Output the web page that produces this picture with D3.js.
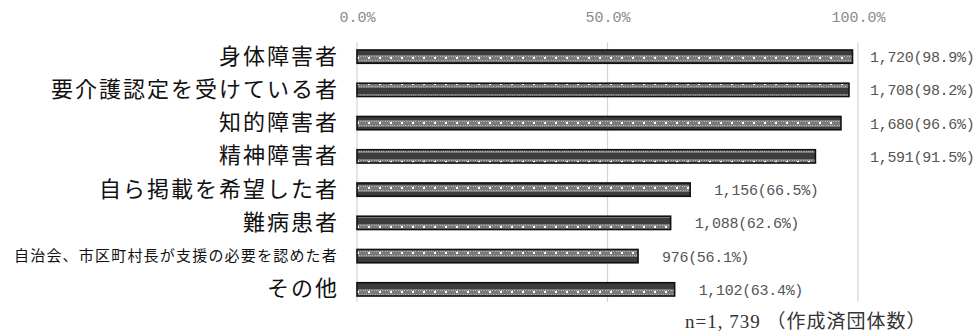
<!DOCTYPE html>
<html>
<head>
<meta charset="utf-8">
<script src="https://cdn.jsdelivr.net/npm/d3@7"></script>
<style>
  body { margin: 0; background: #fff; }
  svg { display: block; }
</style>
</head>
<body>
<div id="content"></div>
<script>
var categories = ["身体障害者", "要介護認定を受けている者", "知的障害者", "精神障害者",
    "自ら掲載を希望した者", "難病患者", "自治会、市区町村長が支援の必要を認めた者", "その他"];
var counts = [1720, 1708, 1680, 1591, 1156, 1088, 976, 1102];
var percents = [98.9, 98.2, 96.6, 91.5, 66.5, 62.6, 56.1, 63.4];
var ticks = [0, 50, 100];
var note = "n=1, 739 （作成済団体数）";

var data = categories.map(function(c, i) {
    return { name: c, count: counts[i], pct: percents[i] };
});

var width = 978, height = 334;

var svg = d3.select("div#content").append("svg")
    .attr("width", width)
    .attr("height", height);

// bar fill pattern: dark grey with light dots
var defs = svg.append("defs");
var pat = defs.append("pattern")
    .attr("id", "dots")
    .attr("patternUnits", "userSpaceOnUse")
    .attr("width", 11)
    .attr("height", 13);
pat.append("rect").attr("width", 11).attr("height", 13).attr("fill", "#3c3c3c");
pat.append("rect").attr("x", 0).attr("y", 3).attr("width", 11).attr("height", 7).attr("fill", "#7a7a7a");
[0, 2, 4, 6, 8].forEach(function(px) {
    pat.append("rect").attr("x", px).attr("y", 4).attr("width", 1).attr("height", 1).attr("fill", "#b5b5b5");
    pat.append("rect").attr("x", px + 1).attr("y", 8).attr("width", 1).attr("height", 1).attr("fill", "#b5b5b5");
});
pat.append("rect").attr("x", 5).attr("y", 5).attr("width", 2).attr("height", 2).attr("fill", "#fff");

var x = d3.scaleLinear().domain([0, 100]).range([357, 858]);
var y = d3.scaleBand().domain(categories).range([40, 306])
    .paddingInner(0.6).paddingOuter(0.3);

// gridlines
svg.append("g").selectAll("line")
    .data(ticks)
    .enter().append("line")
    .attr("x1", function(d) { return x(d); })
    .attr("x2", function(d) { return x(d); })
    .attr("y1", 42)
    .attr("y2", 302)
    .attr("stroke", "#d4d4d4")
    .attr("stroke-width", 1.2);

// top axis
var axis = svg.append("g")
    .attr("transform", "translate(0,25)")
    .call(d3.axisTop(x).tickValues(ticks).tickSize(0).tickFormat(function(d) { return d.toFixed(1) + "%"; }));
axis.select(".domain").remove();
axis.selectAll("text")
    .attr("fill", "#8a8a8a")
    .style("font-family", "'Liberation Mono', monospace")
    .style("font-size", "15px");

// bars
svg.selectAll(".bar")
    .data(data)
    .enter().append("rect")
    .attr("class", "bar")
    .attr("x", x(0))
    .attr("y", function(d) { return y(d.name); })
    .attr("width", function(d) { return x(d.pct) - x(0); })
    .attr("height", y.bandwidth())
    .attr("fill", "url(#dots)")
    .attr("stroke", "#111")
    .attr("stroke-width", 1.6);

// category labels
svg.selectAll(".cat")
    .data(data)
    .enter().append("text")
    .attr("class", "cat")
    .attr("x", function(d) { return d.name.length > 15 ? 338 : 339; })
    .attr("y", function(d) { return y(d.name) + y.bandwidth() / 2 - 1; })
    .attr("dy", "0.36em")
    .attr("text-anchor", "end")
    .attr("fill", "#111")
    .style("font-family", "'Noto Sans CJK JP', sans-serif")
    .style("font-size", function(d) { return d.name.length > 15 ? "15px" : "22px"; })
    .style("letter-spacing", function(d) { return d.name.length > 15 ? "1.2px" : "2px"; })
    .text(function(d) { return d.name; });

// value labels: long bars get a fixed column right of the 100% line
svg.selectAll(".val")
    .data(data)
    .enter().append("text")
    .attr("class", "val")
    .attr("x", function(d) { return d.pct > 80 ? x(100) + 12 : x(d.pct) + 24; })
    .attr("y", function(d) { return y(d.name) + y.bandwidth() / 2; })
    .attr("dy", "0.36em")
    .attr("fill", "#555")
    .style("font-family", "'Liberation Mono', monospace")
    .style("font-size", "15px")
    .style("letter-spacing", "-0.3px")
    .text(function(d) { return d3.format(",")(d.count) + "(" + d.pct.toFixed(1) + "%)"; });

// note
svg.append("text")
    .attr("x", 685)
    .attr("y", 328)
    .attr("fill", "#333")
    .style("font-family", "'Liberation Serif', 'Noto Sans CJK JP', serif")
    .style("font-size", "19px")
    .style("letter-spacing", "1px")
    .text(note);
</script>
</body>
</html>
